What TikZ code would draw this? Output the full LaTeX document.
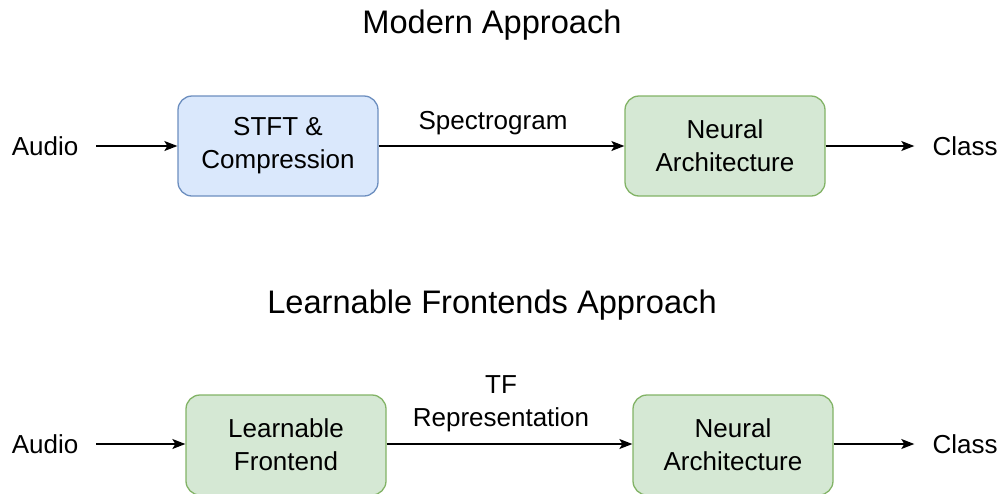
\documentclass[tikz,border=0pt]{standalone}
\usepackage{fontspec}
\setmainfont{Liberation Sans}
\usetikzlibrary{arrows.meta}
\definecolor{bluefill}{HTML}{DAE8FC}
\definecolor{bluedraw}{HTML}{6C8EBF}
\definecolor{greenfill}{HTML}{D5E8D4}
\definecolor{greendraw}{HTML}{82B366}
\begin{document}
\begin{tikzpicture}[x=1pt,y=-1pt,
  box/.style={rounded corners=14pt, minimum width=200pt, minimum height=100pt,
    line width=1.3pt, align=center, font=\fontsize{26}{33}\selectfont},
  bluebox/.style={box, fill=bluefill, draw=bluedraw},
  greenbox/.style={box, fill=greenfill, draw=greendraw},
  lbl/.style={font=\fontsize{26}{33}\selectfont, align=center},
  endlbl/.style={lbl, inner xsep=18pt},
  ttl/.style={font=\fontsize{32.6}{40}\selectfont},
  arr/.style={-{Stealth[length=13pt,width=10pt,inset=3pt]}, line width=1.3pt}
]
\useasboundingbox (0,0) rectangle (1003,493);
\clip (0,0) rectangle (1003,493);

% Top row
\node[ttl] (t1) at (492,25) {Modern Approach};
\node[endlbl] (audio1) at (45,146) {Audio};
\node[bluebox] (stft) at (278,146) {STFT \&\\Compression};
\node[greenbox] (na1) at (725,146) {Neural\\Architecture};
\node[endlbl] (class1) at (965,146) {Class};
\node[lbl] (spec) at (493,123) {Spectrogram};
\draw[arr] (audio1.east) -- (stft.west);
\draw[arr] (stft.east) -- (na1.west);
\draw[arr] (na1.east) -- (class1.west);

% Bottom row
\node[ttl] (t2) at (492,305) {Learnable Frontends Approach};
\node[endlbl] (audio2) at (45,444) {Audio};
\node[greenbox] (lf) at (286,445) {Learnable\\Frontend};
\node[greenbox] (na2) at (733,445) {Neural\\Architecture};
\node[endlbl] (class2) at (965,444) {Class};
\node[lbl] (tf) at (501,404) {TF\\Representation};
\draw[arr] (audio2.east) -- (audio2.east -| lf.west);
\draw[arr] (lf.east |- audio2.east) -- (audio2.east -| na2.west);
\draw[arr] (na2.east |- audio2.east) -- (class2.west);
\end{tikzpicture}
\end{document}
